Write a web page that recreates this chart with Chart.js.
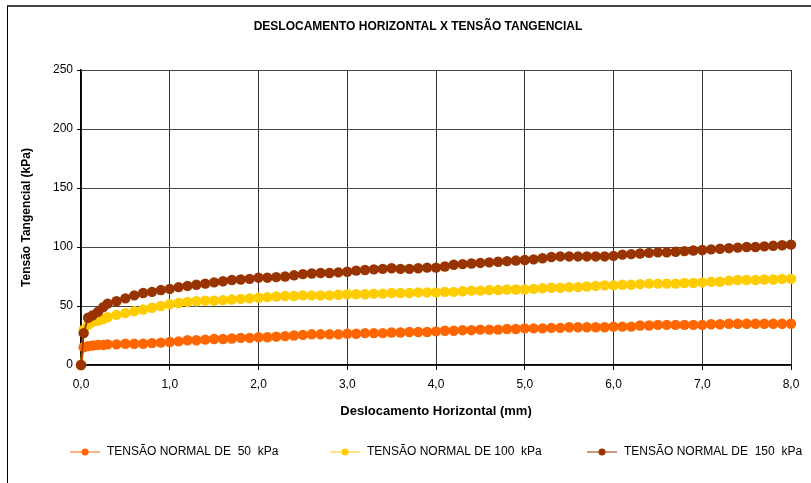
<!DOCTYPE html>
<html>
<head>
<meta charset="utf-8">
<script src="https://cdn.jsdelivr.net/npm/chart.js@4"></script>
<style>
  html, body { margin: 0; padding: 0; background: #fff; }
  #wrap { position: relative; width: 811px; height: 483px; }
</style>
</head>
<body>
<div id="wrap"><canvas id="shearChart"></canvas></div>
<script>
// horizontal displacement (mm), shared by the three tests
const displacement = [0, 0.03, 0.08, 0.13, 0.19, 0.25, 0.3,
  0.4, 0.5, 0.6, 0.7, 0.8, 0.9,
  1.0, 1.1, 1.2, 1.3, 1.4, 1.5, 1.6, 1.7, 1.8, 1.9,
  2.0, 2.1, 2.2, 2.3, 2.4, 2.5, 2.6, 2.7, 2.8, 2.9,
  3.0, 3.1, 3.2, 3.3, 3.4, 3.5, 3.6, 3.7, 3.8, 3.9,
  4.0, 4.1, 4.2, 4.3, 4.4, 4.5, 4.6, 4.7, 4.8, 4.9,
  5.0, 5.1, 5.2, 5.3, 5.4, 5.5, 5.6, 5.7, 5.8, 5.9,
  6.0, 6.1, 6.2, 6.3, 6.4, 6.5, 6.6, 6.7, 6.8, 6.9,
  7.0, 7.1, 7.2, 7.3, 7.4, 7.5, 7.6, 7.7, 7.8, 7.9,
  8.0];

// shear stress (kPa) for each normal stress
const shear50 = [0, 15, 16, 16.5, 17, 17, 17.5,
  17.5, 18, 18, 18, 18.5, 19,
  19.5, 20, 21, 21, 21.5, 22, 22, 22.5, 23, 23,
  23.5, 23.5, 24, 24.5, 25, 25.5, 26, 26, 26, 26,
  26.5, 26.5, 27, 27, 27, 27.5, 27.5, 28, 28, 28,
  28.5, 29, 29, 29.5, 29.5, 30, 30, 30, 30.5, 30.5,
  31, 31, 31, 31.5, 31.5, 32, 32, 32, 32, 32,
  32.5, 32.5, 32.5, 33.5, 33.5, 34, 34, 34, 34, 34,
  34, 34.5, 34.5, 35, 35, 35, 35, 35, 35, 35,
  35];

const shear100 = [0, 30, 34, 36.5, 37.5, 39, 40.5,
  42.5, 44, 45.5, 47, 48.5, 50,
  51.5, 52.5, 53.5, 54, 54.5, 54.5, 55, 55.5, 56, 56.5,
  57, 57.5, 58, 58.5, 58.5, 59, 59, 59, 59, 59.5,
  60, 60, 60, 60.5, 60.5, 61, 61, 61, 61.5, 61.5,
  61.5, 62, 62, 62.5, 63, 63, 63.5, 63.5, 64, 64,
  64, 64.5, 65, 65.5, 65.5, 66, 66, 66.5, 67, 67.5,
  67.5, 68, 68, 68.5, 69, 69, 69, 69, 69.5, 69.5,
  70, 70.5, 70.5, 71.5, 72, 72, 72, 72.5, 72.5, 73,
  73];

const shear150 = [0, 27, 40, 42, 45, 49, 52,
  54, 56.5, 59, 61, 62, 63.5,
  64.5, 66, 67, 68, 69, 70, 71, 72, 72.5, 73,
  74, 74, 74.5, 75, 76, 77, 77.5, 78, 78, 78.5,
  79, 80, 80.5, 81, 81.5, 82, 81.5, 81.5, 82, 82.5,
  82.5, 83.5, 85, 85.5, 86, 86.5, 87, 87.5, 88, 88.5,
  89, 89.5, 90.5, 91.5, 92, 92, 92, 92, 92, 92,
  92.5, 93.5, 94, 94.5, 95, 95.5, 95.5, 96, 96.5, 97,
  97.5, 98, 98.5, 99, 99.5, 100, 100, 100.5, 101, 101.5,
  102];

const seriesLabels = ['TENSÃO NORMAL DE  50  kPa', 'TENSÃO NORMAL DE 100  kPa', 'TENSÃO NORMAL DE  150  kPa'];
const seriesColors = ['#FF6600', '#FFCC00', '#993300'];
const xTicks = [0, 1, 2, 3, 4, 5, 6, 7, 8];
const yTicks = [0, 50, 100, 150, 200, 250];
const chartTitle = 'DESLOCAMENTO HORIZONTAL X TENSÃO TANGENCIAL';

Chart.defaults.font.family = "'Liberation Sans', Arial, sans-serif";
Chart.defaults.color = '#000';

function toPoints(ys) {
  return ys.map((y, i) => ({ x: displacement[i], y: y }));
}

// frame around the whole chart (left and top edges are visible) and the title
const framePlugin = {
  id: 'frame',
  beforeDraw(chart) {
    const ctx = chart.ctx;
    ctx.save();
    ctx.strokeStyle = '#444';
    ctx.lineWidth = 2;
    ctx.beginPath();
    ctx.moveTo(7, 6);
    ctx.lineTo(chart.width, 6);
    ctx.stroke();
    ctx.strokeStyle = '#000';
    ctx.lineWidth = 1;
    ctx.beginPath();
    ctx.moveTo(7.5, 6);
    ctx.lineTo(7.5, chart.height);
    ctx.stroke();

    ctx.fillStyle = '#000';
    ctx.font = "bold 12px 'Liberation Sans', Arial, sans-serif";
    ctx.textAlign = 'center';
    ctx.textBaseline = 'middle';
    ctx.fillText(chartTitle, 418, 27);
    ctx.restore();
  }
};

// legend row under the axis title: line with a dot, then the label
const legendRow = {
  id: 'legendRow',
  afterDraw(chart) {
    const ctx = chart.ctx;
    const starts = [70, 330, 587];
    const y = 452;
    ctx.save();
    ctx.font = "12px 'Liberation Sans', Arial, sans-serif";
    ctx.textBaseline = 'middle';
    chart.data.datasets.forEach((ds, i) => {
      const x0 = starts[i];
      ctx.strokeStyle = ds.borderColor;
      ctx.lineWidth = 1;
      ctx.beginPath();
      ctx.moveTo(x0, y);
      ctx.lineTo(x0 + 30, y);
      ctx.stroke();
      ctx.fillStyle = ds.backgroundColor;
      ctx.beginPath();
      ctx.arc(x0 + 15, y, 3.5, 0, Math.PI * 2);
      ctx.fill();
      ctx.fillStyle = '#000';
      ctx.fillText(ds.label, x0 + 37, y);
    });
    ctx.restore();
  }
};

const series = [shear50, shear100, shear150];

new Chart(document.getElementById('shearChart'), {
  type: 'line',
  data: {
    datasets: series.map((ys, i) => ({
      label: seriesLabels[i],
      data: toPoints(ys),
      borderColor: seriesColors[i],
      backgroundColor: seriesColors[i],
      pointBackgroundColor: seriesColors[i],
      pointBorderWidth: 0,
      pointRadius: 5.2,
      borderWidth: 2,
      fill: false,
      tension: 0,
      clip: false,
      order: 3 - i
    }))
  },
  options: {
    responsive: true,
    maintainAspectRatio: false,
    animation: false,
    layout: { padding: { left: 0, right: 20, top: 70, bottom: 58 } },
    plugins: {
      legend: { display: false },
      tooltip: { enabled: false },
      title: { display: false }
    },
    scales: {
      x: {
        type: 'linear',
        min: 0,
        max: 8,
        afterBuildTicks(scale) {
          scale.ticks = xTicks.map(v => ({ value: v }));
        },
        afterFit(scale) { scale.height = 60; },
        ticks: {
          font: { size: 12 },
          padding: 7,
          maxRotation: 0,
          callback: v => v.toFixed(1).replace('.', ',')
        },
        grid: { color: '#333', lineWidth: 1, tickLength: 5, tickColor: '#000' },
        border: { color: '#000', width: 1.5 },
        title: {
          display: true,
          text: 'Deslocamento Horizontal (mm)',
          font: { size: 13, weight: 'bold' },
          color: '#000',
          padding: { top: 0, bottom: 6 }
        }
      },
      y: {
        min: 0,
        max: 250,
        afterBuildTicks(scale) {
          scale.ticks = yTicks.map(v => ({ value: v }));
        },
        afterFit(scale) { scale.width = 81; },
        ticks: { font: { size: 12 }, padding: 4 },
        grid: { color: '#444', lineWidth: 1, tickLength: 4, tickColor: '#000' },
        border: { color: '#000', width: 1.5 },
        title: {
          display: true,
          text: 'Tensão Tangencial (kPa)',
          font: { size: 12, weight: 'bold' },
          color: '#000',
          padding: { top: 19, bottom: 0 }
        }
      }
    }
  },
  plugins: [framePlugin, legendRow]
});
</script>
</body>
</html>
